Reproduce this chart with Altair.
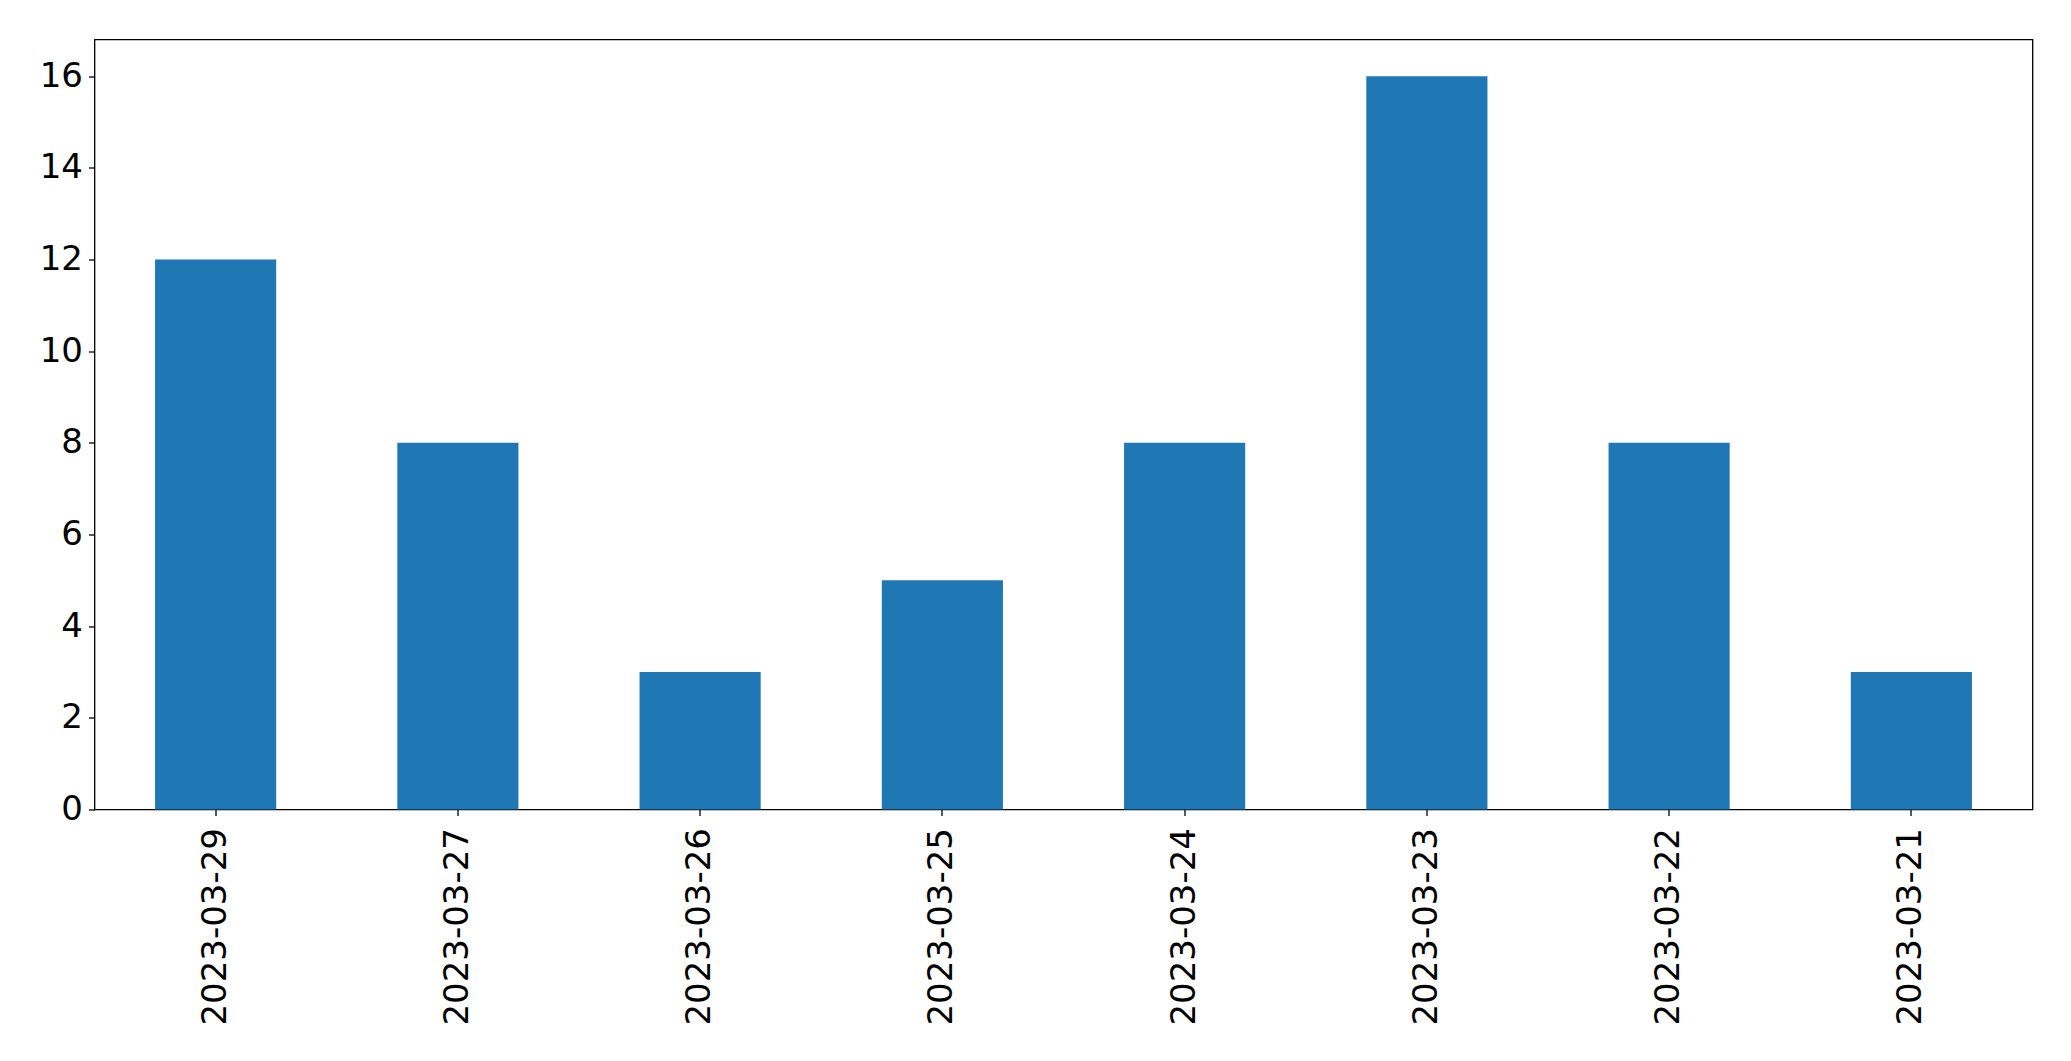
import altair as alt
import pandas as pd

dates = ["2023-03-29", "2023-03-27", "2023-03-26", "2023-03-25",
         "2023-03-24", "2023-03-23", "2023-03-22", "2023-03-21"]
counts = [12, 8, 3, 5, 8, 16, 8, 3]
y_ticks = [0, 2, 4, 6, 8, 10, 12, 14, 16]

df = pd.DataFrame({"date": dates, "count": counts})

font = "DejaVu Sans"

chart = alt.Chart(df).mark_bar(color="#1f77b4").encode(
    x=alt.X("date:N", sort=dates, title=None,
            scale=alt.Scale(paddingInner=0.5, paddingOuter=0.25),
            axis=alt.Axis(labelAngle=-90, labelFontSize=34, labelFont=font,
                          labelColor="black", tickColor="black", tickSize=6,
                          tickWidth=1.3, labelLimit=0,
                          labelPadding=12, domain=False, grid=False)),
    y=alt.Y("count:Q", title=None,
            scale=alt.Scale(domain=[0, 16.8], nice=False, zero=True),
            axis=alt.Axis(values=y_ticks, labelFontSize=34, labelFont=font,
                          labelColor="black", tickColor="black", tickSize=6,
                          tickWidth=1.3, labelLimit=0,
                          labelPadding=6, domain=False, grid=False)),
).properties(
    width=1938, height=770,
    background="white",
    autosize=alt.AutoSizeParams(type="none"),
    padding={"left": 86.5, "top": 31.5, "right": 30, "bottom": 240},
).configure_view(
    stroke="black", strokeWidth=1.3
)

chart.save("out.html", embed_options={"renderer": "svg", "actions": False})
